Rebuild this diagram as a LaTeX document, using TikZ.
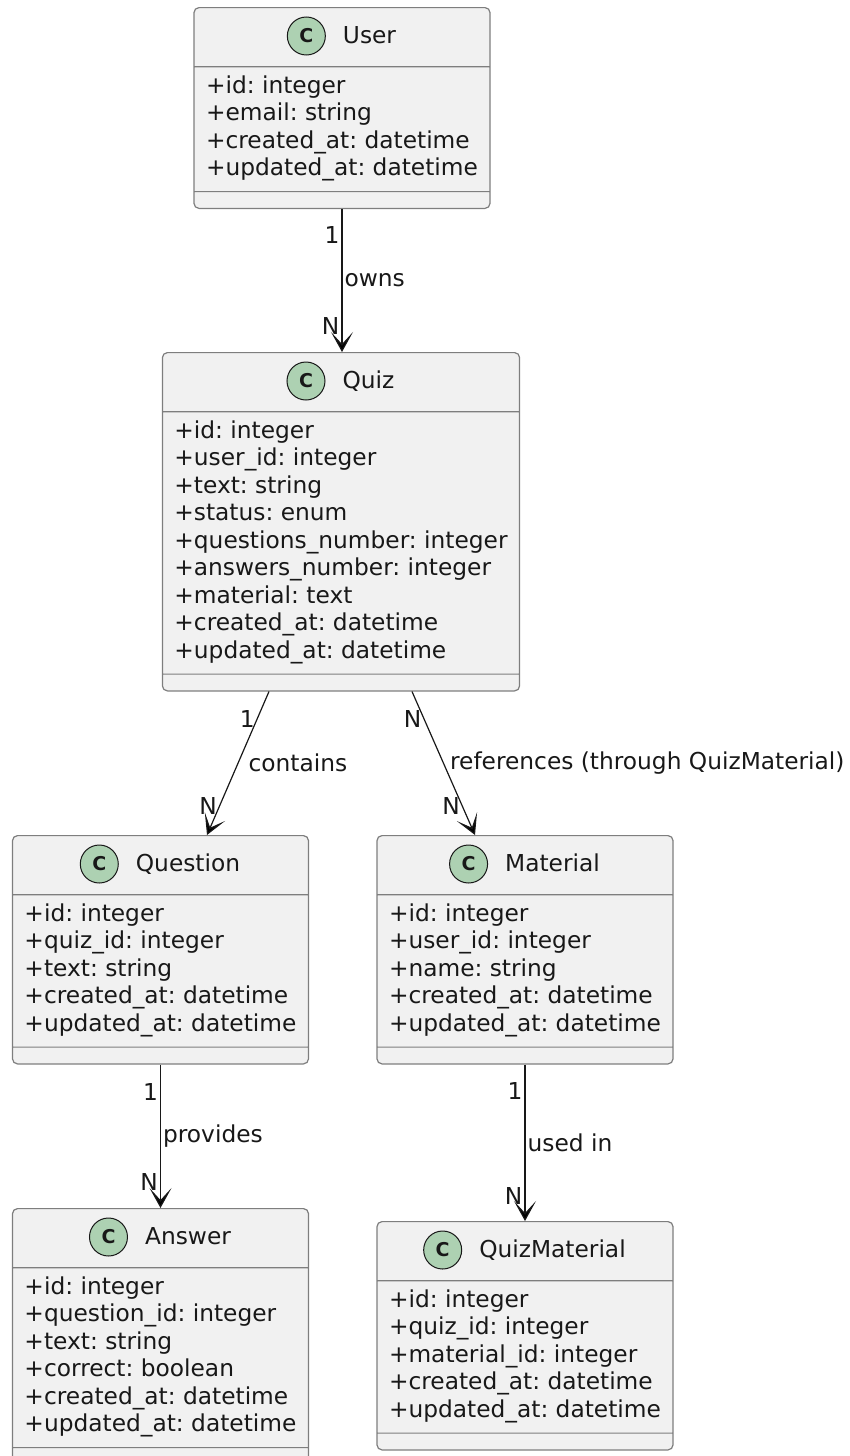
\documentclass[tikz,border=0pt]{standalone}
\usepackage{fontspec}
\setmainfont{DejaVu Sans}
\usepackage{tikz}
\usetikzlibrary{arrows.meta,shapes.multipart,positioning}
\definecolor{classbg}{HTML}{F1F1F1}
\definecolor{classline}{HTML}{7E7E7E}
\definecolor{spotbg}{HTML}{ADD1B2}
\definecolor{ink}{HTML}{181818}
\newcommand{\umlfont}{\fontsize{11.65pt}{13.75pt}\selectfont\frenchspacing}
\newcommand{\hd}{\rule[-7.6pt]{0pt}{22.2pt}}
\newcommand{\ops}{\rule{0pt}{1pt}}

\begin{document}
\begin{tikzpicture}[x=0.5pt,y=-0.5pt
  ,semithick]
  \tikzstyle{umlclass}=[rectangle split, rectangle split parts=3
  ,rectangle split part align={left,left,left}
  ,draw=classline, fill=classbg, line width=0.6pt, rounded corners=2.5pt
  ,minimum width=148pt, inner xsep=6pt, inner ysep=3.4pt, align=left, anchor=north
  ,font=\umlfont, text=ink]
  \tikzstyle{classname}=[anchor=base, inner sep=0pt, font=\umlfont, text=ink]
  \tikzstyle{spot}=[circle, draw=ink, fill=spotbg, line width=0.5pt
  ,minimum size=19pt, inner sep=0pt
  ,font=\fontsize{9.5pt}{10pt}\selectfont\bfseries, text=ink]
  \tikzstyle{assoc}=[-{Stealth[length=10pt,width=11pt,inset=6pt]}, draw=ink, line width=0.6pt]
  \tikzstyle{lbl}=[inner sep=1pt, font=\umlfont, text=ink]

  \useasboundingbox (0,0) rectangle (850,1456);

  % top row
  \node[umlclass] (user) at (342,7) {\hd
    \nodepart{second}\strut+id: integer\\
    +email: string\\
    +created\_at: datetime\\
    +updated\_at: datetime\strut
    \nodepart{third}\ops};
  \node[umlclass, minimum width=178pt] (quiz) at (341,352) {\hd
    \nodepart{second}\strut+id: integer\\
    +user\_id: integer\\
    +text: string\\
    +status: enum\\
    +questions\_number: integer\\
    +answers\_number: integer\\
    +material: text\\
    +created\_at: datetime\\
    +updated\_at: datetime\strut
    \nodepart{third}\ops};
  % middle row
  \node[umlclass] (question) at (160.5,835) {\hd
    \nodepart{second}\strut+id: integer\\
    +quiz\_id: integer\\
    +text: string\\
    +created\_at: datetime\\
    +updated\_at: datetime\strut
    \nodepart{third}\ops};
  \node[umlclass] (material) at (525,835) {\hd
    \nodepart{second}\strut+id: integer\\
    +user\_id: integer\\
    +name: string\\
    +created\_at: datetime\\
    +updated\_at: datetime\strut
    \nodepart{third}\ops};
  % bottom row
  \node[umlclass] (answer) at (160.5,1208) {\hd
    \nodepart{second}\strut+id: integer\\
    +question\_id: integer\\
    +text: string\\
    +correct: boolean\\
    +created\_at: datetime\\
    +updated\_at: datetime\strut
    \nodepart{third}\ops};
  \node[umlclass] (quizmaterial) at (525,1221) {\hd
    \nodepart{second}\strut+id: integer\\
    +quiz\_id: integer\\
    +material\_id: integer\\
    +created\_at: datetime\\
    +updated\_at: datetime\strut
    \nodepart{third}\ops};

  % class names and spots
  \node[classname] (user-name) at ([xshift=13.75pt,yshift=-18pt]user.north) {User};
  \node[spot] (user-spot) at ([xshift=-18pt,yshift=3.5pt]user-name.base west) {C};
  \node[classname] (quiz-name) at ([xshift=13.75pt,yshift=-18pt]quiz.north) {Quiz};
  \node[spot] (quiz-spot) at ([xshift=-18pt,yshift=3.5pt]quiz-name.base west) {C};
  \node[classname] (question-name) at ([xshift=13.75pt,yshift=-18pt]question.north) {Question};
  \node[spot] (question-spot) at ([xshift=-18pt,yshift=3.5pt]question-name.base west) {C};
  \node[classname] (material-name) at ([xshift=13.75pt,yshift=-18pt]material.north) {Material};
  \node[spot] (material-spot) at ([xshift=-18pt,yshift=3.5pt]material-name.base west) {C};
  \node[classname] (answer-name) at ([xshift=13.75pt,yshift=-18pt]answer.north) {Answer};
  \node[spot] (answer-spot) at ([xshift=-18pt,yshift=3.5pt]answer-name.base west) {C};
  \node[classname] (quizmaterial-name) at ([xshift=13.75pt,yshift=-18pt]quizmaterial.north) {QuizMaterial};
  \node[spot] (quizmaterial-spot) at ([xshift=-18pt,yshift=3.5pt]quizmaterial-name.base west) {C};

  \draw[assoc] (user.south) -- node[lbl,pos=0.18,left] {1}
    node[lbl,right] {owns} node[lbl,pos=0.82,left] {N} (user.south |- quiz.north);
  \draw[assoc] ([xshift=-36pt]quiz.south) -- node[lbl,pos=0.19,left] {1}
    node[lbl,right,xshift=4pt] {contains} node[lbl,pos=0.8,left] {N}
    ([xshift=23.25pt]question.north);
  \draw[assoc] ([xshift=35.5pt]quiz.south) -- node[lbl,pos=0.19,left] {N}
    node[lbl,right,xshift=2pt] {references (through QuizMaterial)}
    node[lbl,pos=0.8,left] {N} ([xshift=-25pt]material.north);
  \draw[assoc] (question.south) -- node[lbl,pos=0.19,left] {1}
    node[lbl,right] {provides} node[lbl,pos=0.82,left] {N} (answer.north);
  \draw[assoc] (material.south) -- node[lbl,pos=0.17,left] {1}
    node[lbl,right] {used in} node[lbl,pos=0.84,left] {N} (quizmaterial.north);

\end{tikzpicture}
\end{document}
